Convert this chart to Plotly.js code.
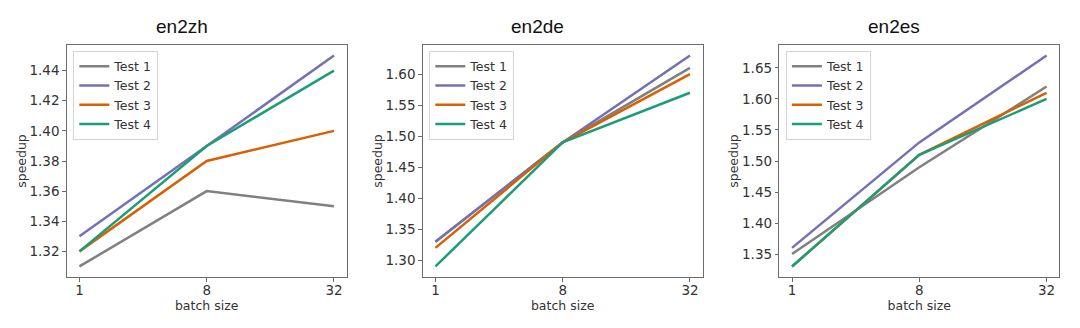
<!DOCTYPE html>
<html>
<head>
<meta charset="utf-8">
<script src="https://cdn.plot.ly/plotly-3.0.1.min.js"></script>
<style>html,body{margin:0;padding:0;background:#fff;}#chart{width:1080px;height:328px;}</style>
</head>
<body>
<div id="chart"></div>
<script>
// ---- data ----
const batchSizes = ['1', '8', '32'];
const seriesNames = ['Test 1', 'Test 2', 'Test 3', 'Test 4'];
const panelTitles = ['en2zh', 'en2de', 'en2es'];

const en2zh_test1 = [1.31, 1.36, 1.35];
const en2zh_test2 = [1.33, 1.39, 1.45];
const en2zh_test3 = [1.32, 1.38, 1.40];
const en2zh_test4 = [1.32, 1.39, 1.44];

const en2de_test1 = [1.33, 1.49, 1.61];
const en2de_test2 = [1.33, 1.49, 1.63];
const en2de_test3 = [1.32, 1.49, 1.60];
const en2de_test4 = [1.29, 1.49, 1.57];

const en2es_test1 = [1.35, 1.49, 1.62];
const en2es_test2 = [1.36, 1.53, 1.67];
const en2es_test3 = [1.33, 1.51, 1.61];
const en2es_test4 = [1.33, 1.51, 1.60];

const en2zhTicks = [1.32, 1.34, 1.36, 1.38, 1.40, 1.42, 1.44];
const en2deTicks = [1.30, 1.35, 1.40, 1.45, 1.50, 1.55, 1.60];
const en2esTicks = [1.35, 1.40, 1.45, 1.50, 1.55, 1.60, 1.65];

// ---- styling ----
const colors = ['#808080', '#7570b3', '#d95f02', '#1b9e77'];
const W = 1080, H = 328;
const panels = [
  {data: [en2zh_test1, en2zh_test2, en2zh_test3, en2zh_test4], ticks: en2zhTicks, left: 66.7},
  {data: [en2de_test1, en2de_test2, en2de_test3, en2de_test4], ticks: en2deTicks, left: 422.7},
  {data: [en2es_test1, en2es_test2, en2es_test3, en2es_test4], ticks: en2esTicks, left: 779.3}
];
const boxW = 280, boxTop = 45, boxBottom = 277;

function yRange(arrs) {
  let mn = Infinity, mx = -Infinity;
  arrs.forEach(a => a.forEach(v => { mn = Math.min(mn, v); mx = Math.max(mx, v); }));
  const pad = (mx - mn) * 0.05;
  return [mn - pad, mx + pad];
}

const traces = [];
const layout = {
  width: W, height: H,
  margin: {l: 0, r: 0, t: 0, b: 0},
  paper_bgcolor: '#ffffff', plot_bgcolor: '#ffffff',
  font: {family: 'DejaVu Sans, sans-serif', color: '#333333', size: 13},
  showlegend: true,
  annotations: []
};

panels.forEach((p, i) => {
  const sfx = i === 0 ? '' : String(i + 1);
  const legendKey = i === 0 ? 'legend' : 'legend' + (i + 1);
  p.data.forEach((vals, k) => {
    traces.push({
      type: 'scatter', mode: 'lines',
      x: batchSizes, y: vals, name: seriesNames[k],
      xaxis: 'x' + sfx, yaxis: 'y' + sfx,
      legend: legendKey,
      line: {color: colors[k], width: 2.5}
    });
  });
  const x0 = p.left / W, x1 = (p.left + boxW) / W;
  const axCommon = {
    showline: true, mirror: true, linecolor: '#6b6b6b', linewidth: 1,
    ticks: 'outside', ticklen: 3.5, tickcolor: '#6b6b6b', tickwidth: 1,
    showgrid: false, zeroline: false,
    tickfont: {size: 13.5, color: '#333333'}
  };
  layout['xaxis' + sfx] = Object.assign({}, axCommon, {
    domain: [x0, x1], anchor: 'y' + sfx,
    type: 'category', categoryorder: 'array', categoryarray: batchSizes,
    range: [-0.1, 2.1], ticklabelstandoff: -3,
    title: {text: 'batch size', font: {size: 12.5, color: '#333333'}, standoff: 0}
  });
  layout['yaxis' + sfx] = Object.assign({}, axCommon, {
    domain: [1 - boxBottom / H, 1 - boxTop / H], anchor: 'x' + sfx,
    range: yRange(p.data), tickvals: p.ticks, tickformat: '.2f',
    title: {text: 'speedup', font: {size: 12.5, color: '#333333'}, standoff: 0}
  });
  layout[legendKey] = {
    x: (p.left + 6.6) / W, y: 1 - 50.7 / H, xanchor: 'left', yanchor: 'top',
    bgcolor: '#ffffff', bordercolor: '#d4d4d4', borderwidth: 1,
    font: {size: 12.5, color: '#333333'}, tracegroupgap: 0
  };
  layout.annotations.push({
    text: panelTitles[i], xref: 'paper', yref: 'paper',
    x: (p.left + boxW / 2 - 25) / W, y: 1 - 27 / H,
    xanchor: 'center', yanchor: 'middle', showarrow: false,
    font: {family: 'Liberation Sans, Arial, sans-serif', size: 19, color: '#111111'}
  });
});

Plotly.newPlot('chart', traces, layout, {staticPlot: true, displayModeBar: false});
</script>
</body>
</html>
